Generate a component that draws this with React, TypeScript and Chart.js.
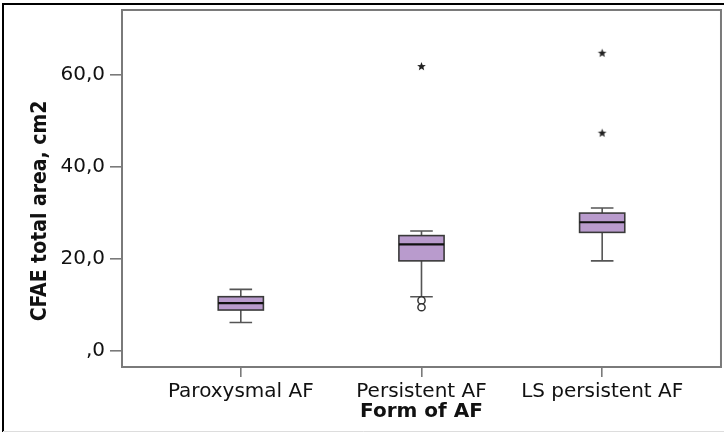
import React, { useEffect, useRef } from "react";
import { Chart, registerables } from "chart.js";

Chart.register(...registerables);

// ---- data ----
const categories = ["Paroxysmal AF", "Persistent AF", "LS persistent AF"];
const whiskerLow = [6.1, 11.7, 19.5];
const q1 = [8.8, 19.5, 25.7];
const median = [10.3, 23.1, 27.9];
const q3 = [11.7, 25.0, 29.9];
const whiskerHigh = [13.3, 26.0, 31.0];
const outlierCategory = [1, 1];
const outlierValues = [10.9, 9.4];
const extremeCategory = [1, 2, 2];
const extremeValues = [61.8, 64.7, 47.3];
const yTicks = [0, 20, 40, 60];
const yTickLabels = [",0", "20,0", "40,0", "60,0"];
const xTitle = "Form of AF";
const yTitle = "CFAE total area, cm2";

const X_FRAME_MIN = -0.6575;
const X_FRAME_MAX = 2.6575;

const BOX_FILL = "#b99bcd";
const AXIS_COLOR = "#7a7a7a";

function makeStar(): HTMLCanvasElement {
  const c = document.createElement("canvas");
  c.width = 11;
  c.height = 11;
  const g = c.getContext("2d")!;
  g.fillStyle = "#222";
  g.beginPath();
  const cx = 5.5, cy = 5.5, ro = 4.6, ri = 2.0;
  for (let i = 0; i < 10; i++) {
    const r = i % 2 === 0 ? ro : ri;
    const a = -Math.PI / 2 + (i * Math.PI) / 5;
    const x = cx + r * Math.cos(a);
    const y = cy + r * Math.sin(a);
    if (i === 0) g.moveTo(x, y);
    else g.lineTo(x, y);
  }
  g.closePath();
  g.fill();
  return c;
}

const boxPlugin = {
  id: "boxPlugin",
  beforeDraw(chart: any) {
    const ctx = chart.ctx;
    ctx.save();
    ctx.fillStyle = "#ffffff";
    ctx.fillRect(0, 0, chart.width, chart.height);
    // outer frame
    ctx.strokeStyle = "#000";
    ctx.lineWidth = 2;
    ctx.beginPath();
    ctx.moveTo(3, 432);
    ctx.lineTo(3, 4);
    ctx.lineTo(724, 4);
    ctx.stroke();
    ctx.strokeStyle = "#dddddd";
    ctx.lineWidth = 1;
    ctx.beginPath();
    ctx.moveTo(3, 431.5);
    ctx.lineTo(724, 431.5);
    ctx.stroke();
    ctx.restore();
  },
  beforeDatasetsDraw(chart: any) {
    const ctx = chart.ctx;
    const xs = chart.scales.x;
    const ys = chart.scales.y;
    const ca = chart.chartArea;
    ctx.save();
    // plot frame
    const fl = xs.getPixelForValue(X_FRAME_MIN);
    const fr = xs.getPixelForValue(X_FRAME_MAX);
    ctx.strokeStyle = AXIS_COLOR;
    ctx.lineWidth = 2;
    ctx.strokeRect(fl, ca.top, fr - fl, ca.bottom - ca.top);

    const halfW = 0.125;
    for (let i = 0; i < categories.length; i++) {
      const xl = xs.getPixelForValue(i - halfW);
      const xr = xs.getPixelForValue(i + halfW);
      const xc = xs.getPixelForValue(i);
      const capL = xs.getPixelForValue(i - halfW / 2);
      const capR = xs.getPixelForValue(i + halfW / 2);
      const yLo = ys.getPixelForValue(whiskerLow[i]);
      const yQ1 = ys.getPixelForValue(q1[i]);
      const yMed = ys.getPixelForValue(median[i]);
      const yQ3 = ys.getPixelForValue(q3[i]);
      const yHi = ys.getPixelForValue(whiskerHigh[i]);
      // whiskers
      ctx.strokeStyle = "#555";
      ctx.lineWidth = 1.6;
      ctx.beginPath();
      ctx.moveTo(xc, yQ3);
      ctx.lineTo(xc, yHi);
      ctx.moveTo(xc, yQ1);
      ctx.lineTo(xc, yLo);
      ctx.moveTo(capL, yHi);
      ctx.lineTo(capR, yHi);
      ctx.moveTo(capL, yLo);
      ctx.lineTo(capR, yLo);
      ctx.stroke();
      // box
      ctx.fillStyle = BOX_FILL;
      ctx.fillRect(xl, yQ3, xr - xl, yQ1 - yQ3);
      ctx.strokeStyle = "#3a3a3a";
      ctx.lineWidth = 1.6;
      ctx.strokeRect(xl, yQ3, xr - xl, yQ1 - yQ3);
      // median
      ctx.strokeStyle = "#111";
      ctx.lineWidth = 2.2;
      ctx.beginPath();
      ctx.moveTo(xl, yMed);
      ctx.lineTo(xr, yMed);
      ctx.stroke();
    }
    ctx.restore();
  },
  afterDraw(chart: any) {
    const ctx = chart.ctx;
    const xs = chart.scales.x;
    ctx.save();
    ctx.fillStyle = "#111";
    ctx.textAlign = "center";
    ctx.textBaseline = "middle";
    ctx.font = 'bold 20px "DejaVu Sans"';
    ctx.fillText(xTitle, xs.getPixelForValue(1), 412);
    ctx.translate(41, 211);
    ctx.rotate(-Math.PI / 2);
    ctx.font = 'bold 21px "DejaVu Sans Condensed", "DejaVu Sans"';
    ctx.fillText(yTitle, 0, 0);
    ctx.restore();
  },
};

export default function App() {
  const ref = useRef<HTMLCanvasElement | null>(null);
  useEffect(() => {
    if (!ref.current) return;
    const star = makeStar();
    const chart = new Chart(ref.current, {
      type: "scatter",
      data: {
        datasets: [
          {
            label: "Outliers",
            data: outlierValues.map((v, i) => ({ x: outlierCategory[i], y: v })),
            pointStyle: "circle",
            pointRadius: 3.6,
            borderColor: "#333",
            borderWidth: 1.5,
            backgroundColor: "rgba(255,255,255,1)",
          },
          {
            label: "Extremes",
            data: extremeValues.map((v, i) => ({ x: extremeCategory[i], y: v })),
            pointStyle: star as any,
            pointRadius: 5,
          },
        ],
      },
      options: {
        responsive: false,
        animation: false,
        events: [],
        layout: { padding: { top: 10, right: 2, left: 0, bottom: 0 } },
        plugins: {
          legend: { display: false },
          tooltip: { enabled: false },
        },
        scales: {
          x: {
            type: "linear",
            min: X_FRAME_MIN,
            max: 2.641,
            afterBuildTicks: (s: any) => {
              s.ticks = categories.map((_, i) => ({ value: i }));
            },
            afterFit: (s: any) => {
              s.height = 65;
              s.paddingLeft = 0;
              s.paddingRight = 0;
              s.paddingTop = 0;
              s.paddingBottom = 0;
            },
            ticks: {
              callback: (v: any) => categories[Math.round(Number(v))] ?? "",
              font: { family: '"DejaVu Sans"', size: 20 },
              color: "#111",
              padding: 3,
              maxRotation: 0,
              autoSkip: false,
            },
            grid: {
              drawOnChartArea: false,
              drawTicks: true,
              tickLength: 10,
              color: AXIS_COLOR,
              lineWidth: 1.6,
            },
            border: { display: true, color: AXIS_COLOR, width: 2 },
          },
          y: {
            type: "linear",
            min: -3.6,
            max: 74.1,
            afterBuildTicks: (s: any) => {
              s.ticks = yTicks.map((v) => ({ value: v }));
            },
            afterFit: (s: any) => {
              s.width = 122;
              s.paddingLeft = 0;
              s.paddingRight = 0;
              s.paddingTop = 0;
              s.paddingBottom = 0;
            },
            ticks: {
              callback: (v: any) => {
                const idx = yTicks.indexOf(Number(v));
                return idx >= 0 ? yTickLabels[idx] : "";
              },
              font: { family: '"DejaVu Sans"', size: 20 },
              color: "#111",
              padding: 5,
            },
            grid: {
              drawOnChartArea: false,
              drawTicks: true,
              tickLength: 12,
              color: AXIS_COLOR,
              lineWidth: 1.6,
            },
            border: { display: true, color: AXIS_COLOR, width: 2 },
          },
        },
      },
      plugins: [boxPlugin],
    });
    return () => chart.destroy();
  }, []);
  return (
    <div style={{ position: "absolute", left: 0, top: 0, width: 724, height: 432 }}>
      <canvas ref={ref} width={724} height={432} />
    </div>
  );
}
